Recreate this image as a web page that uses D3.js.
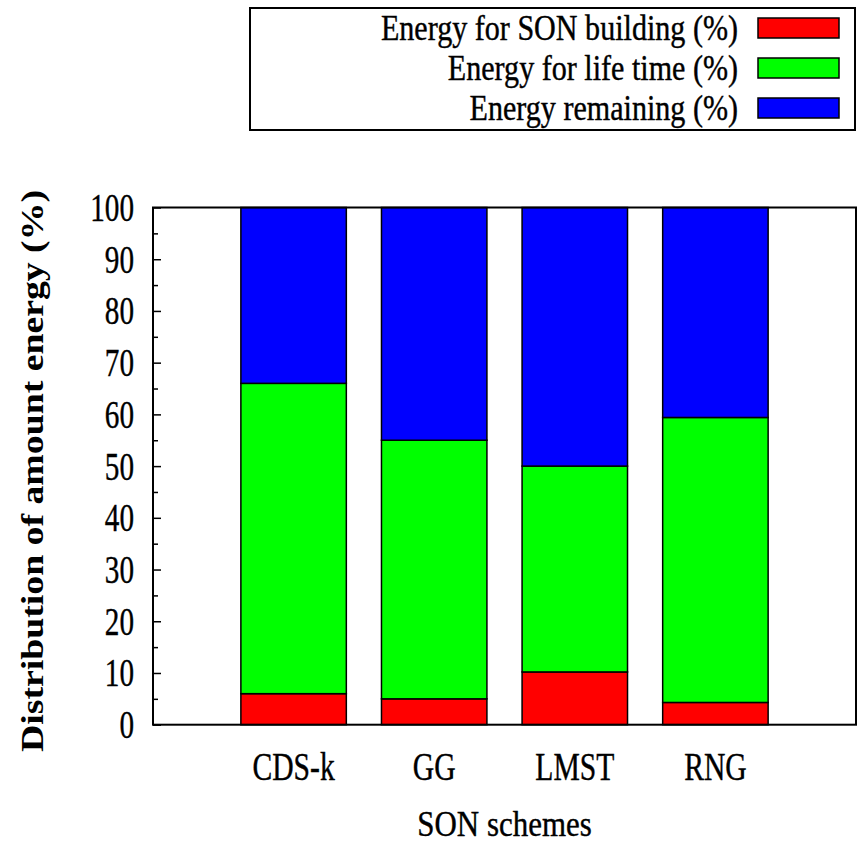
<!DOCTYPE html>
<html>
<head>
<meta charset="utf-8">
<script src="https://cdn.jsdelivr.net/npm/d3@7"></script>
<style>
  body { margin: 0; background: #fff; }
  text { font-family: "Liberation Serif", "Times New Roman", serif; fill: #000; stroke: #000; stroke-width: 0.4px; }
</style>
</head>
<body>
<svg id="chart" width="862" height="843"></svg>
<script>
// data
var categories = ['CDS-k', 'GG', 'LMST', 'RNG'];
var building  = [6, 5, 10.2, 4.3];
var lifetime  = [60, 50, 39.8, 55.1];
var remaining = [34, 45, 50, 40.6];
var seriesNames = ['Energy for SON building (%)', 'Energy for life time (%)', 'Energy remaining (%)'];
var seriesColors = ['#ff0000', '#00ff00', '#0000ff'];
var yTicks = [0, 10, 20, 30, 40, 50, 60, 70, 80, 90, 100];

var svg = d3.select('#chart');

var plot = { left: 153, right: 856, top: 207.5, bottom: 724.7 };

var x = d3.scaleLinear().domain([-1, categories.length]).range([plot.left, plot.right]);
var y = d3.scaleLinear().domain([0, 100]).range([plot.bottom, plot.top]);
var barWidth = 0.75;

// squeezed serif text, like the gnuplot output
function label(g, str, px, py, size, sx, anchor){
  return g.append('g')
    .attr('transform', 'translate(' + px + ',' + py + ') scale(' + sx + ',1)')
    .append('text')
    .attr('text-anchor', anchor)
    .style('font-size', size + 'px')
    .text(str);
}

var rows = categories.map(function(c, i){
  return { cat: c, i: i, b: building[i], l: lifetime[i], r: remaining[i] };
});
var stack = d3.stack().keys(['b', 'l', 'r']);
var layers = stack(rows);

svg.append('g').selectAll('g')
  .data(layers)
  .enter().append('g')
  .attr('fill', function(d, i){ return seriesColors[i]; })
  .selectAll('rect')
  .data(function(d){ return d; })
  .enter().append('rect')
  .attr('x', function(d){ return x(d.data.i - barWidth / 2); })
  .attr('width', function(d){ return x(barWidth) - x(0); })
  .attr('y', function(d){ return y(d[1]); })
  .attr('height', function(d){ return y(d[0]) - y(d[1]); })
  .attr('stroke', '#000')
  .attr('stroke-width', 1.5);

// frame
svg.append('rect')
  .attr('x', plot.left).attr('y', plot.top)
  .attr('width', plot.right - plot.left).attr('height', plot.bottom - plot.top)
  .attr('fill', 'none').attr('stroke', '#000').attr('stroke-width', 2);

// y ticks, major + minor on the left only
var yAxis = d3.axisRight(y).tickValues(d3.range(0, 101, 5))
  .tickSize(0).tickFormat('');
var ya = svg.append('g').attr('transform', 'translate(' + plot.left + ',0)').call(yAxis);
ya.select('.domain').remove();
ya.selectAll('.tick line')
  .attr('x2', function(d){ return d % 10 === 0 ? 8 : 5; })
  .attr('stroke', '#000').attr('stroke-width', 1.5);

yTicks.forEach(function(t){
  label(svg, t, 134, y(t) + 13.5, 40, 0.73, 'end');
});

categories.forEach(function(c, i){
  label(svg, c, x(i), 780, 39, 0.76, 'middle');
});

label(svg, 'SON schemes', x(1.5), 836, 36, 0.86, 'middle');

svg.append('text')
  .attr('transform', 'translate(43,' + 471 + ') rotate(-90)')
  .attr('text-anchor', 'middle')
  .attr('textLength', 562)
  .attr('lengthAdjust', 'spacingAndGlyphs')
  .style('font-size', '32px')
  .style('font-weight', 'bold')
  .style('stroke-width', '0px')
  .text('Distribution of amount energy (%)');

// legend
var legend = svg.append('g');
legend.append('rect')
  .attr('x', 250).attr('y', 8).attr('width', 605).attr('height', 122)
  .attr('fill', 'none').attr('stroke', '#000').attr('stroke-width', 2);

seriesNames.forEach(function(name, i){
  var cy = 28 + i * 40;
  legend.append('rect')
    .attr('x', 758).attr('y', cy - 10).attr('width', 81).attr('height', 20)
    .attr('fill', seriesColors[i]).attr('stroke', '#000').attr('stroke-width', 1.5);
  label(legend, name, 738, cy + 11.5, 35, 0.86, 'end');
});
</script>
</body>
</html>
